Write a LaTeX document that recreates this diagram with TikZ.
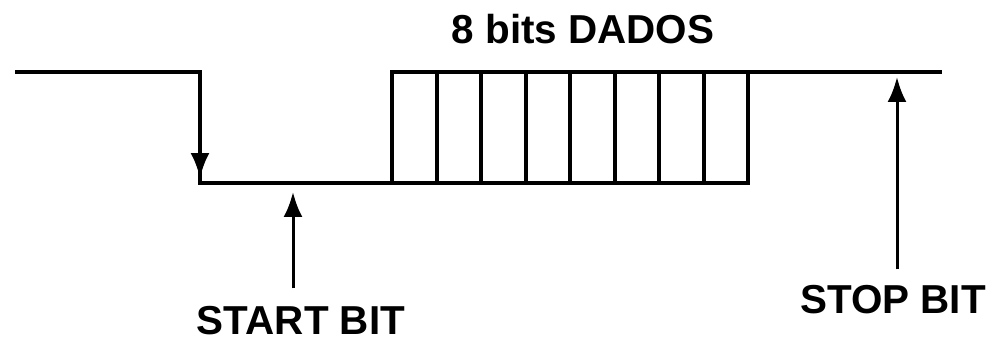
\documentclass[tikz,border=0pt]{standalone}
\usepackage{fontspec}
\setmainfont{Liberation Sans}
\usetikzlibrary{arrows.meta, positioning}

\begin{document}
\begin{tikzpicture}[
    x=0.02cm, y=-0.02cm,
    wave/.style={line width=0.08cm},
    pointer/.style={-{Latex[length=0.5cm,width=0.38cm]}, line width=0.06cm},
    label/.style={font=\bfseries\fontsize{23}{26}\selectfont, inner sep=0pt}
]
    \useasboundingbox (0,0) rectangle (992,341);

    % serial frame
    \coordinate (idle) at (15,72);
    \coordinate (fall) at (200,72);
    \coordinate (low) at (200,183);
    \coordinate (rise) at (392,183);
    \coordinate (last) at (748,72);
    \coordinate (stop) at (942,72);
    \draw[wave] (idle) -- (fall) -- (low) -- (rise) |- (stop);
    \draw[wave] (rise) rectangle (last);
    \foreach \k in {1,...,7}
        \draw[wave] (392+\k*44.5,72) -- (392+\k*44.5,183);

    \node[label] (dados) at (583,29) {8 bits DADOS};
    \node[label] (startlbl) at (301,321) {START BIT};
    \node[label] (stoplbl) at (893,300) {STOP BIT};

    \coordinate (falltip) at (200,178);
    \coordinate (startbit) at (293,192);
    \coordinate (stopbit) at (897,77);

    \draw[pointer] (fall) -- (falltip);
    \draw[pointer] ([yshift=0.36cm]startlbl.north -| startbit) -- (startbit);
    \draw[pointer] ([yshift=0.32cm]stoplbl.north -| stopbit) -- (stopbit);
\end{tikzpicture}
\end{document}
